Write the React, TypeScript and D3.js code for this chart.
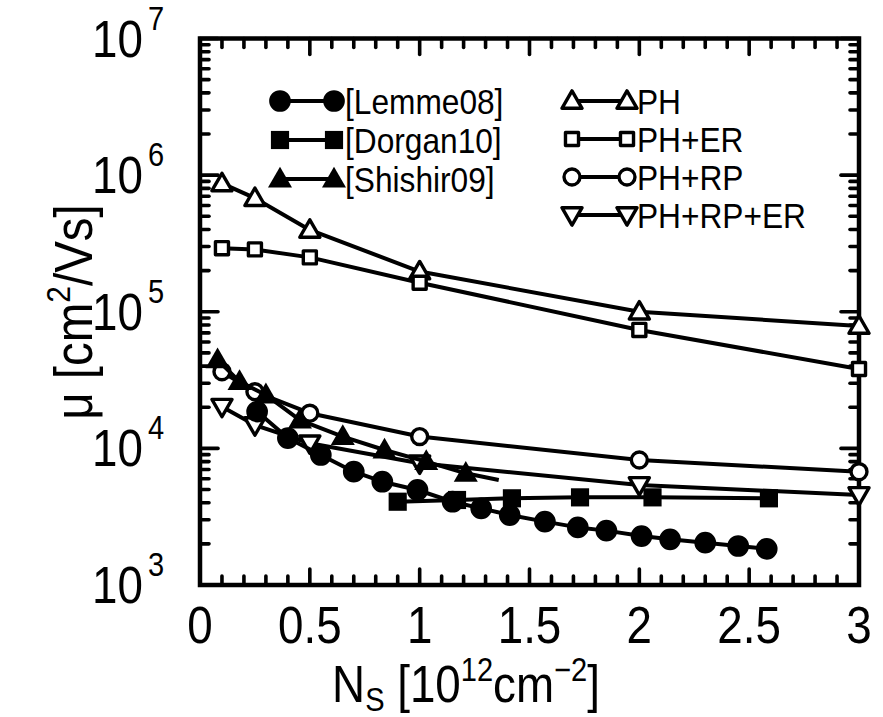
import React from "react";
import * as d3 from "d3";

// Measured mobility vs. sheet carrier density
const lemmeN = [0.26, 0.4, 0.55, 0.7, 0.83, 0.99, 1.15, 1.28, 1.41, 1.57, 1.72, 1.85, 2.01, 2.14, 2.3, 2.45, 2.58];
const lemmeMu = [18600, 11900, 8950, 6750, 5700, 4960, 4070, 3640, 3250, 2910, 2640, 2500, 2280, 2160, 2040, 1930, 1840];

const dorganN = [0.9, 1.17, 1.42, 1.73, 2.06, 2.59];
const dorganMu = [4070, 4190, 4310, 4380, 4380, 4310];

// last Shishir09 sample ends the curve without a symbol
const shishirN = [0.08, 0.18, 0.3, 0.455, 0.65, 0.84, 1.03, 1.21, 1.36];
const shishirMu = [44400, 30800, 24600, 16100, 12200, 9730, 8000, 6570, 5870];

// Simulated mobility for the scattering models
const modelN = [0.1, 0.25, 0.5, 1, 2, 3];
const phMu = [870000, 678000, 397000, 197000, 100000, 78700];
const phErMu = [292000, 286000, 250000, 163000, 73600, 38100];
const phRpMu = [36400, 26000, 18100, 12200, 8220, 6750];
const phRpErMu = [20200, 14800, 10900, 7780, 5400, 4560];

const xTickValues = [0, 0.5, 1, 1.5, 2, 2.5, 3];
const xTickLabels = ["0", "0.5", "1", "1.5", "2", "2.5", "3"];
const yDecades = [3, 4, 5, 6, 7];

type Shape = "circle" | "square" | "triangle" | "triangleDown";

interface Series {
  name: string;
  n: number[];
  mu: number[];
  shape: Shape;
  filled: boolean;
  markerCount?: number;
}

const seriesList: Series[] = [
  { name: "PH", n: modelN, mu: phMu, shape: "triangle", filled: false },
  { name: "PH+ER", n: modelN, mu: phErMu, shape: "square", filled: false },
  { name: "PH+RP", n: modelN, mu: phRpMu, shape: "circle", filled: false },
  { name: "PH+RP+ER", n: modelN, mu: phRpErMu, shape: "triangleDown", filled: false },
  { name: "[Shishir09]", n: shishirN, mu: shishirMu, shape: "triangle", filled: true, markerCount: 8 },
  { name: "[Lemme08]", n: lemmeN, mu: lemmeMu, shape: "circle", filled: true },
  { name: "[Dorgan10]", n: dorganN, mu: dorganMu, shape: "square", filled: true },
];

const legendLeft = ["[Lemme08]", "[Dorgan10]", "[Shishir09]"];
const legendRight = ["PH", "PH+ER", "PH+RP", "PH+RP+ER"];

const FONT = "'Liberation Sans', Arial, Helvetica, sans-serif";
const W = 883;
const H = 717;
const plot = { left: 200, right: 859, top: 38.5, bottom: 585 };
const NARROW = 0.88;

const x = d3.scaleLinear().domain([0, 3]).range([plot.left, plot.right]);
const y = d3.scaleLog().domain([1e3, 1e7]).range([plot.bottom, plot.top]);

function markerPath(shape: Shape, filled: boolean): string {
  if (shape === "circle") {
    return d3.symbol(d3.symbolCircle, filled ? 370 : 200)() as string;
  }
  if (shape === "square") {
    return d3.symbol(d3.symbolSquare, filled ? 330 : 170)() as string;
  }
  return d3.symbol(d3.symbolTriangle, filled ? 250 : 175)() as string;
}

function Marker({ shape, filled, cx, cy }: { shape: Shape; filled: boolean; cx: number; cy: number }) {
  const rot = shape === "triangleDown" ? " rotate(180)" : "";
  const dy = shape === "triangle" ? 1.5 : shape === "triangleDown" ? -1.5 : 0;
  return (
    <path
      d={markerPath(shape, filled)}
      transform={`translate(${cx},${cy + dy})${rot}`}
      fill={filled ? "#000" : "#fff"}
      stroke="#000"
      strokeWidth={filled ? 0 : 3.4}
      strokeLinejoin="round"
    />
  );
}

// narrow sans text, anchored at (tx, ty)
function NText({ tx, ty, size, anchor, children }: { tx: number; ty: number; size: number; anchor?: string; children: React.ReactNode }) {
  return (
    <text transform={`translate(${tx},${ty}) scale(${NARROW},1)`} fontSize={size} textAnchor={anchor ?? "start"}>
      {children}
    </text>
  );
}

export default function App() {
  const line = d3
    .line<[number, number]>()
    .x((d) => x(d[0]))
    .y((d) => y(d[1]));

  const xMinor = d3.range(0, 31).map((i) => i / 10);
  const yMinor = y.ticks();

  const byName = (nm: string) => seriesList.find((s) => s.name === nm)!;

  const tickStroke = { stroke: "#000", strokeWidth: 3.6, strokeLinecap: "round" as const };

  return (
    <svg
      width={W}
      height={H}
      style={{ display: "block", position: "absolute", left: 0, top: 0, background: "#fff" }}
      fontFamily={FONT}
    >
      <rect width={W} height={H} fill="#fff" />

      {/* x ticks, bottom and top */}
      {xMinor.map((v, i) => {
        const major = i % 5 === 0;
        const len = major ? 16 : 9;
        return (
          <g key={`xt${i}`}>
            <line x1={x(v)} x2={x(v)} y1={plot.bottom} y2={plot.bottom - len} {...tickStroke} />
            <line x1={x(v)} x2={x(v)} y1={plot.top} y2={plot.top + len} {...tickStroke} />
          </g>
        );
      })}

      {/* y ticks, left and right */}
      {yMinor.map((v, i) => {
        const major = Math.abs(Math.log10(v) - Math.round(Math.log10(v))) < 1e-9;
        const len = major ? 18 : 9;
        return (
          <g key={`yt${i}`}>
            <line x1={plot.left} x2={plot.left + len} y1={y(v)} y2={y(v)} {...tickStroke} />
            <line x1={plot.right} x2={plot.right - len} y1={y(v)} y2={y(v)} {...tickStroke} />
          </g>
        );
      })}

      {/* frame */}
      <rect
        x={plot.left}
        y={plot.top}
        width={plot.right - plot.left}
        height={plot.bottom - plot.top}
        fill="none"
        stroke="#000"
        strokeWidth={4.5}
      />

      {/* series */}
      {seriesList.map((s) => {
        const pts = s.n.map((v, i) => [v, s.mu[i]] as [number, number]);
        const count = s.markerCount ?? pts.length;
        return (
          <g key={s.name}>
            <path d={line(pts) as string} fill="none" stroke="#000" strokeWidth={4} strokeLinejoin="round" />
            {pts.slice(0, count).map((p, i) => (
              <Marker key={i} shape={s.shape} filled={s.filled} cx={x(p[0])} cy={y(p[1])} />
            ))}
          </g>
        );
      })}

      {/* x tick labels */}
      {xTickValues.map((v, i) => (
        <NText key={`xl${i}`} tx={x(v)} ty={643} size={52} anchor="middle">
          {xTickLabels[i]}
        </NText>
      ))}

      {/* y tick labels */}
      {yDecades.map((p) => (
        <g key={`yl${p}`}>
          <NText tx={143} ty={y(Math.pow(10, p)) + 18} size={52} anchor="end">
            10
          </NText>
          <NText tx={148} ty={y(Math.pow(10, p)) - 9} size={33}>
            {p}
          </NText>
        </g>
      ))}

      {/* axis titles */}
      <text transform={`translate(466,702) scale(${NARROW},1)`} textAnchor="middle" fontSize={52}>
        N<tspan fontSize={33} dy={9}>S</tspan>
        <tspan dy={-9}> [10</tspan>
        <tspan fontSize={33} dy={-21}>12</tspan>
        <tspan dy={21}>cm</tspan>
        <tspan fontSize={33} dy={-21}>−2</tspan>
        <tspan dy={21}>]</tspan>
      </text>
      <text transform={`translate(92,312) rotate(-90) scale(${NARROW},1)`} textAnchor="middle" fontSize={54}>
        μ [cm<tspan fontSize={34} dy={-22}>2</tspan>
        <tspan dy={22}>/Vs]</tspan>
      </text>

      {/* legend */}
      {legendLeft.map((nm, i) => {
        const s = byName(nm);
        const ly = 101 + i * 39;
        return (
          <g key={nm}>
            <line x1={280} x2={334} y1={ly} y2={ly} stroke="#000" strokeWidth={4} />
            <Marker shape={s.shape} filled={s.filled} cx={280} cy={ly} />
            <Marker shape={s.shape} filled={s.filled} cx={334} cy={ly} />
            <NText tx={345} ty={ly + 13} size={36}>
              {nm}
            </NText>
          </g>
        );
      })}
      {legendRight.map((nm, i) => {
        const s = byName(nm);
        const ly = 101 + i * 38;
        return (
          <g key={nm}>
            <line x1={572} x2={627} y1={ly} y2={ly} stroke="#000" strokeWidth={4} />
            <Marker shape={s.shape} filled={s.filled} cx={572} cy={ly} />
            <Marker shape={s.shape} filled={s.filled} cx={627} cy={ly} />
            <NText tx={637} ty={ly + 13} size={36}>
              {nm}
            </NText>
          </g>
        );
      })}
    </svg>
  );
}
